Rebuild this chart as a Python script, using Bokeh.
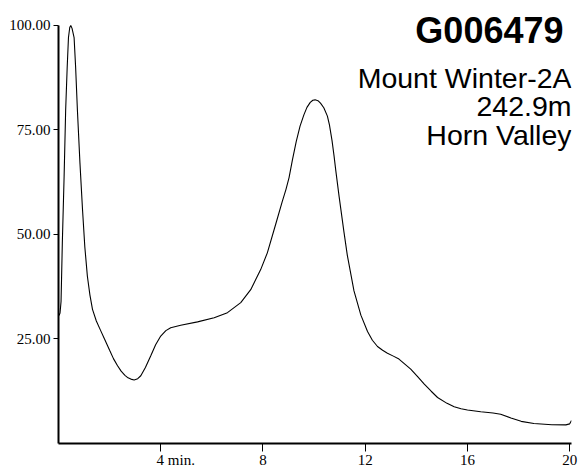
from bokeh.plotting import figure
from bokeh.models import FixedTicker, NumeralTickFormatter, Label
from bokeh.embed import file_html
from bokeh.resources import INLINE

# Data (time in minutes, relative intensity)
time_min = [0.02, 0.06, 0.10, 0.15, 0.22, 0.28, 0.34, 0.39, 0.44, 0.48, 0.53, 0.61, 0.67,
            0.74, 0.84, 0.94, 1.03, 1.13, 1.23, 1.33, 1.48, 1.65, 1.80, 2.00, 2.15, 2.31,
            2.45, 2.60, 2.72, 2.83, 2.96, 3.10, 3.22,
            3.40, 3.61, 3.80, 4.00, 4.20, 4.39, 4.78, 5.44, 6.09, 6.61, 7.13, 7.52, 7.91,
            8.17, 8.50, 8.75, 8.90, 9.02, 9.15, 9.30, 9.45, 9.60, 9.72, 9.85, 9.95, 10.04, 10.15,
            10.25, 10.38, 10.52, 10.60, 10.70, 10.78, 10.85,
            10.98, 11.17, 11.30, 11.56, 11.83, 12.09, 12.28, 12.48, 12.68, 12.87, 13.10, 13.32,
            13.55, 13.78, 14.05, 14.31, 14.58, 14.83, 15.20, 15.48, 15.75, 16.00, 16.52, 17.00,
            17.30, 17.70, 18.10, 18.60, 19.30, 19.85, 20.00, 20.07]
intensity = [30.6, 31.2, 34.0, 48.0, 64.0, 79.7, 90.0, 97.1, 99.5, 100.0, 99.3, 97.1, 90.0,
             79.7, 67.0, 55.9, 47.0, 40.0, 35.5, 32.1, 29.3, 27.0, 25.0, 22.3, 20.3, 18.6,
             17.3, 16.3, 15.7, 15.4, 15.2, 15.5, 16.2,
             18.2, 21.0, 23.6, 25.7, 27.0, 27.7, 28.3, 29.1, 30.1, 31.3, 33.7, 36.8, 41.6,
             45.6, 52.5, 57.8, 60.8, 63.6, 67.8, 72.2, 75.9, 78.6, 80.4, 81.6, 82.1, 82.2, 82.0,
             81.4, 80.3, 78.3, 76.2, 72.5, 68.8, 65.2,
             59.0, 50.5, 45.0, 36.5, 30.7, 26.8, 24.7, 23.2, 22.3, 21.6, 20.9, 20.2,
             19.0, 17.8, 16.0, 14.2, 12.5, 11.0, 9.6, 8.8, 8.3, 8.0, 7.6, 7.3,
             7.0, 6.1, 5.3, 4.8, 4.5, 4.45, 4.7, 5.5]

x_ticks = [4, 8, 12, 16, 20]
x_tick_labels = {4: "\u00a0" * 8 + "4 min.", 8: "8", 12: "12", 16: "16", 20: "20"}
y_ticks = [25, 50, 75, 100]
title_text = "G006479"
info_lines = ["Mount Winter-2A", "242.9m", "Horn Valley"]

X_MAX = 20.07
Y_TOP = 435 / 4.2  # frame extends above 100 so the title is not clipped
p = figure(width=579, height=470, x_range=(0, X_MAX), y_range=(0, Y_TOP),
           output_backend="svg", toolbar_location=None,
           min_border_left=58, min_border_right=8, min_border_top=10, min_border_bottom=25)
p.outline_line_color = None
p.xgrid.visible = False
p.ygrid.visible = False
p.background_fill_color = "white"
p.border_fill_color = "white"

p.line(time_min, intensity, line_color="black", line_width=1.1)

serif = "Liberation Serif"
# x axis
xa = p.xaxis[0]
xa.ticker = FixedTicker(ticks=x_ticks)
xa.major_label_overrides = x_tick_labels
xa.minor_tick_line_color = None
xa.major_tick_in = 0
xa.major_tick_out = 8
xa.axis_line_width = 2
xa.major_label_text_font = serif
xa.major_label_text_font_size = "15px"
xa.major_label_text_color = "black"
xa.major_label_standoff = 0
xa.axis_line_color = "black"
xa.major_tick_line_color = "black"

# y axis
ya = p.yaxis[0]
ya.ticker = FixedTicker(ticks=y_ticks)
ya.formatter = NumeralTickFormatter(format="0.00")
ya.bounds = (0, 100)
ya.minor_tick_line_color = None
ya.major_tick_in = 0
ya.major_tick_out = 5
ya.axis_line_width = 2
ya.major_label_text_font = serif
ya.major_label_text_font_size = "15px"
ya.major_label_text_color = "black"
ya.major_label_standoff = 3
ya.axis_line_color = "black"
ya.major_tick_line_color = "black"

# Title and info block (top right)
px_per_x = 513 / X_MAX
px_per_y = 4.2
def dx(px):
    return (px - 58) / px_per_x
def dy(py):
    return (445 - py) / px_per_y

p.add_layout(Label(x=dx(563), y=dy(30.3), text=title_text, text_font="Liberation Sans",
                   text_font_size="36px", text_font_style="bold", text_color="black",
                   text_align="right", text_baseline="alphabetic"))
for i, line in enumerate(info_lines):
    p.add_layout(Label(x=dx(571), y=dy(78 + 28.3 * i), text=line, text_font="Liberation Sans",
                       text_font_size="28.5px", text_color="black",
                       text_align="right", text_baseline="alphabetic"))

open("out.html", "w").write(file_html(p, INLINE))
